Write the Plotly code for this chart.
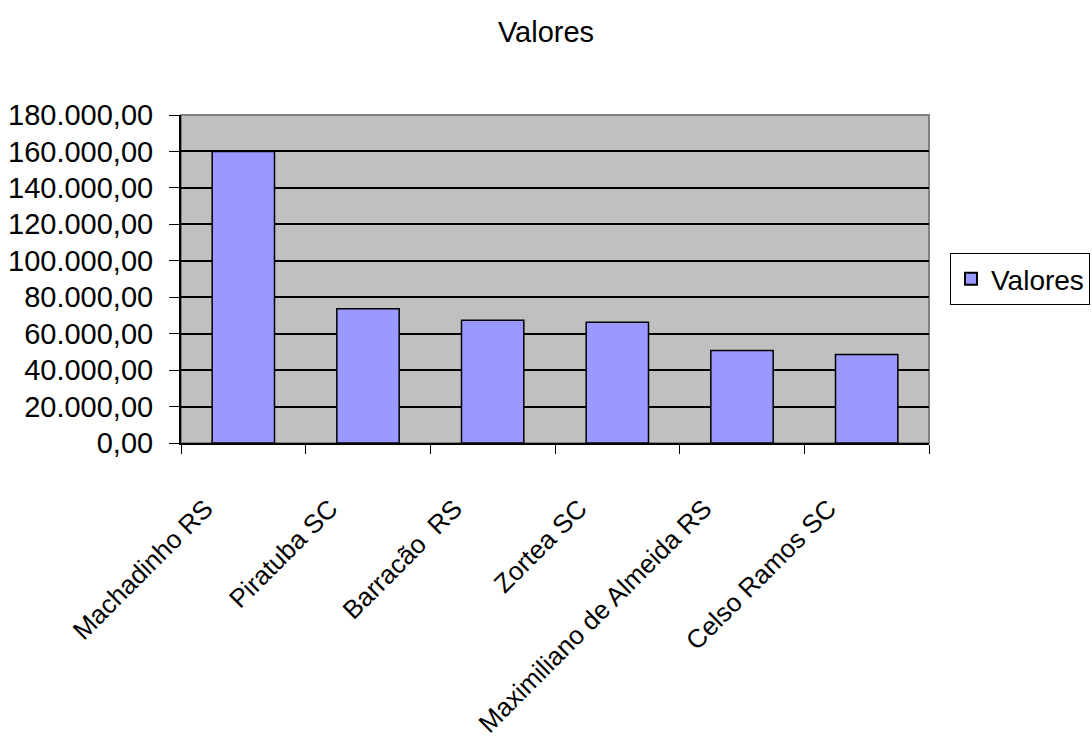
import plotly.graph_objects as go

categories = ["Machadinho RS", "Piratuba SC", "Barracão  RS", "Zortea SC",
              "Maximiliano de Almeida RS", "Celso Ramos SC"]
valores = [160000, 73700, 67300, 66200, 50700, 48500]
y_ticks = [0, 20000, 40000, 60000, 80000, 100000, 120000, 140000, 160000, 180000]

FONT = "Liberation Sans, Arial, sans-serif"

fig = go.Figure()
fig.add_trace(go.Bar(
    x=categories, y=valores, name="Valores",
    marker=dict(color="#9999FF", line=dict(color="black", width=1.5)),
))

L, R, T, B = 181, 929, 115, 443
W, H = 1092, 753

fig.update_layout(
    width=W, height=H,
    margin=dict(l=L, r=W - R, t=T, b=H - B, autoexpand=False),
    paper_bgcolor="white", plot_bgcolor="#C0C0C0",
    separators=",.",
    font=dict(family=FONT, size=27, color="black"),
    title=dict(text="Valores", x=0.5, xanchor="center", y=1 - 32 / H, yanchor="middle",
               font=dict(family=FONT, size=29, color="black")),
    bargap=0.5,
    showlegend=True,
    legend=dict(x=(950 - L) / (R - L), xanchor="left", y=0.5, yanchor="middle",
                bordercolor="black", borderwidth=1, bgcolor="white",
                font=dict(family=FONT, size=28, color="black"),
                itemsizing="constant"),
    xaxis=dict(
        type="category", tickangle=-45, tickson="boundaries",
        ticks="outside", ticklen=9, tickcolor="black", tickwidth=1,
        showline=True, linecolor="black", linewidth=2,
        showgrid=False, automargin=False,
        ticklabelstandoff=38, ticklabelshift=-38,
        tickfont=dict(family=FONT, size=26, color="black"),
    ),
    yaxis=dict(
        range=[0, 180000], tickvals=y_ticks, tickformat=",.2f",
        ticks="outside", ticklen=10, tickcolor="black", tickwidth=1,
        showline=True, linecolor="black", linewidth=2,
        showgrid=True, gridcolor="black", gridwidth=1.5,
        zeroline=False, automargin=False,
        ticklabelstandoff=10,
        tickfont=dict(family=FONT, size=29, color="black"),
    ),
    shapes=[dict(type="rect", xref="paper", yref="paper", x0=0, x1=1, y0=0, y1=1,
                 line=dict(color="#808080", width=2), layer="below")],
)

fig.write_html("out.html")
